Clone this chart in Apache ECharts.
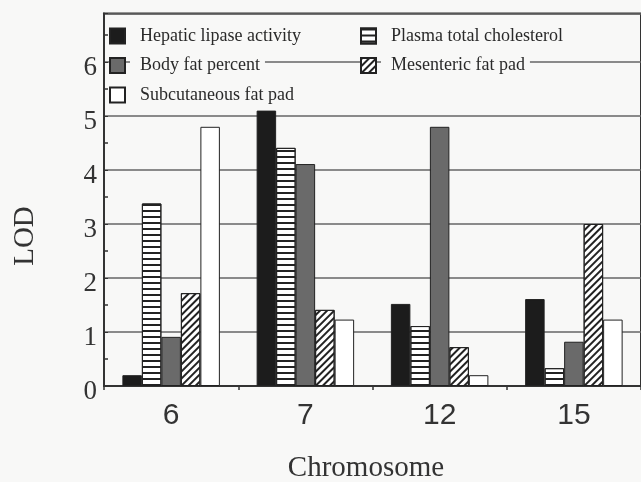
<!DOCTYPE html>
<html>
<head>
<meta charset="utf-8">
<script src="https://cdn.jsdelivr.net/npm/echarts@6/dist/echarts.min.js"></script>
<style>
html,body{margin:0;padding:0;background:#f8f8f7;}
#chart{width:641px;height:482px;}
</style>
</head>
<body>
<div id="chart"></div>
<script>
// Data
const chromosomes = ['6', '7', '12', '15'];
const hepaticLipase = [0.20, 5.10, 1.52, 1.61];
const plasmaCholesterol = [3.38, 4.41, 1.11, 0.33];
const bodyFat = [0.91, 4.11, 4.80, 0.82];
const mesentericFat = [1.72, 1.41, 0.72, 3.00];
const subcutaneousFat = [4.80, 1.23, 0.20, 1.23];
const yTicks = [0, 1, 2, 3, 4, 5, 6];

const BG = '#f8f8f7';
const INK = '#222';

const chart = echarts.init(document.getElementById('chart'), null, {renderer: 'canvas'});

function barSeries(name, data, color, decal) {
  const s = {
    name: name,
    type: 'bar',
    data: data,
    barWidth: 19.5,
    barGap: '0%',
    itemStyle: {color: color, borderColor: INK, borderWidth: 1},
    emphasis: {disabled: true}
  };
  if (decal) s.itemStyle.decal = decal;
  return s;
}

const legendText = {
  fontFamily: '"Liberation Serif", "Times New Roman", serif',
  fontSize: 18,
  color: '#2a2a2a',
  backgroundColor: BG,
  lineHeight: 20,
  padding: [2, 5, 2, 10]
};

chart.setOption({
  backgroundColor: BG,
  animation: false,
  grid: {
    left: 104, top: 13.4, width: 539, height: 372.6,
    show: true, borderColor: '#333', borderWidth: 2, backgroundColor: 'transparent',
    containLabel: false
  },
  legend: [
    {
      data: ['Hepatic lipase activity', 'Body fat percent', 'Subcutaneous fat pad'],
      orient: 'vertical', left: 109, top: 24, itemWidth: 15, itemHeight: 15,
      itemGap: 5.5, icon: 'rect', textStyle: legendText, selectedMode: false, padding: 0
    },
    {
      data: ['Plasma total cholesterol', 'Mesenteric fat pad'],
      orient: 'vertical', left: 360, top: 24, itemWidth: 15, itemHeight: 15,
      itemGap: 5.5, icon: 'rect', textStyle: legendText, selectedMode: false, padding: 0
    }
  ],
  xAxis: {
    type: 'category',
    data: chromosomes,
    axisLine: {lineStyle: {color: '#333', width: 2}},
    axisTick: {show: true, length: 4, lineStyle: {color: '#333', width: 1.5}},
    axisLabel: {
      fontFamily: '"Liberation Sans", Arial, sans-serif', fontSize: 30, color: '#333',
      margin: 15, lineHeight: 30
    },
    splitLine: {show: false}
  },
  yAxis: {
    type: 'value',
    min: 0, max: 6.9, interval: 1,
    axisLine: {show: true, lineStyle: {color: '#333', width: 2}},
    axisTick: {show: true, inside: true, length: 4, lineStyle: {color: '#333'}},
    minorTick: {show: true, splitNumber: 2, length: 4, lineStyle: {color: '#333', width: 1.5}},
    axisLabel: {
      fontFamily: '"Liberation Serif", "Times New Roman", serif', fontSize: 27, color: '#333',
      margin: 7, verticalAlign: 'top', lineHeight: 11,
      formatter: function (v) { return yTicks.indexOf(v) >= 0 ? String(v) : ''; }
    },
    splitLine: {show: true, lineStyle: {color: '#666', width: 1.5}}
  },
  graphic: [
    {
      type: 'text', x: 366, y: 468,
      style: {
        text: 'Chromosome', fontFamily: '"Liberation Serif", "Times New Roman", serif',
        fontSize: 29, fill: '#333', textAlign: 'center', textVerticalAlign: 'middle'
      }
    },
    {
      type: 'text', x: 25, y: 236, rotation: Math.PI / 2,
      style: {
        text: 'LOD', fontFamily: '"Liberation Serif", "Times New Roman", serif',
        fontSize: 29, fill: '#333', textAlign: 'center', textVerticalAlign: 'middle'
      }
    }
  ],
  series: [
    barSeries('Hepatic lipase activity', hepaticLipase, '#1c1c1c'),
    barSeries('Plasma total cholesterol', plasmaCholesterol, '#ffffff', {
      symbol: 'rect', symbolSize: 1, color: '#222',
      dashArrayX: [1, 0], dashArrayY: [2, 3.3], rotation: 0
    }),
    barSeries('Body fat percent', bodyFat, '#6a6a6a'),
    barSeries('Mesenteric fat pad', mesentericFat, '#ffffff', {
      symbol: 'rect', symbolSize: 1, color: '#222',
      dashArrayX: [1, 0], dashArrayY: [1.4, 2.4], rotation: -Math.PI / 4
    }),
    barSeries('Subcutaneous fat pad', subcutaneousFat, '#ffffff')
  ]
});
</script>
</body>
</html>
